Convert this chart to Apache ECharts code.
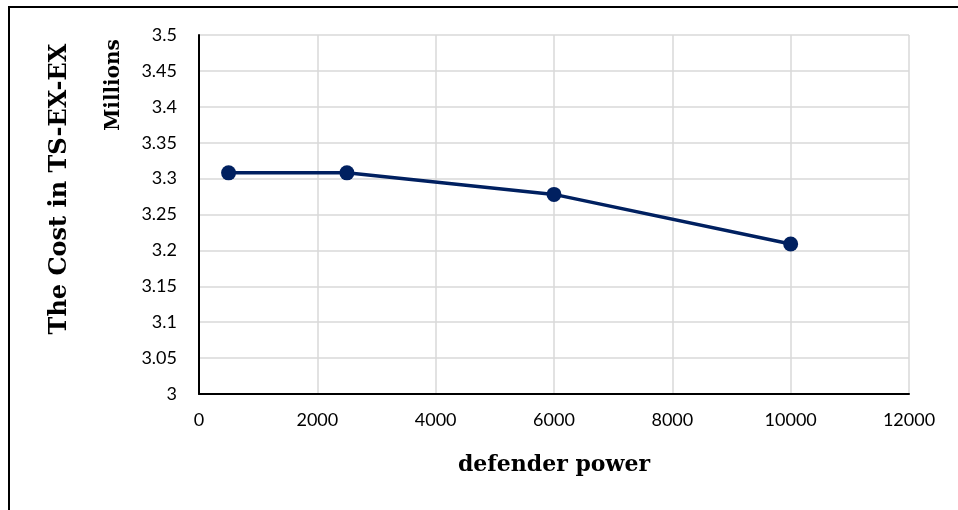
<!DOCTYPE html>
<html>
<head>
<meta charset="utf-8">
<script src="https://cdn.jsdelivr.net/npm/echarts@6/dist/echarts.min.js"></script>
<style>
html,body{margin:0;padding:0;background:#fff;}
#frame{position:absolute;left:8px;top:6px;width:960px;height:520px;border-left:2px solid #000;border-top:2px solid #000;box-sizing:border-box;}
#chart{position:absolute;left:0;top:0;width:958px;height:510px;}
</style>
</head>
<body>
<div id="frame"></div>
<div id="chart"></div>
<script>
const defenderPower = [500, 2500, 6000, 10000];
const costMillions = [3.308, 3.308, 3.278, 3.209];
const xTicks = [0, 2000, 4000, 6000, 8000, 10000, 12000];
const yTicks = [3, 3.05, 3.1, 3.15, 3.2, 3.25, 3.3, 3.35, 3.4, 3.45, 3.5];
const xTitle = 'defender power';
const yTitle = 'The Cost in TS-EX-EX';
const yUnit = 'Millions';

const chart = echarts.init(document.getElementById('chart'), null, {renderer: 'canvas'});
const labelFont = 'Lato, "Open Sans", sans-serif';
const titleFont = '"DejaVu Serif", serif';
function pick(arr, v) { const t = arr.find(k => Math.abs(k - v) < 1e-9); return t !== undefined ? String(t) : ''; }
chart.setOption({
  animation: false,
  grid: {left: 199, right: 49, top: 35, bottom: 116, containLabel: false},
  xAxis: {
    type: 'value',
    min: xTicks[0], max: xTicks[xTicks.length - 1], interval: xTicks[1] - xTicks[0],
    name: xTitle, nameLocation: 'middle', nameGap: 60,
    nameTextStyle: {fontFamily: titleFont, fontWeight: 'bold', fontSize: 22, color: '#000'},
    axisLine: {show: true, lineStyle: {color: '#000', width: 2}},
    axisTick: {show: false},
    axisLabel: {fontFamily: labelFont, fontSize: 18, color: '#000', margin: 17,
      formatter: function (v) { return pick(xTicks, v); }},
    splitLine: {show: true, lineStyle: {color: '#d9d9d9', width: 1.5}}
  },
  yAxis: {
    type: 'value',
    min: yTicks[0], max: yTicks[yTicks.length - 1], interval: 0.05,
    axisLine: {show: true, lineStyle: {color: '#000', width: 2}},
    axisTick: {show: false},
    axisLabel: {fontFamily: labelFont, fontSize: 18, color: '#000', margin: 22,
      formatter: function (v) { return pick(yTicks, v); }},
    splitLine: {show: true, lineStyle: {color: '#d9d9d9', width: 1.5}}
  },
  graphic: [{
    type: 'text', x: 60, y: 189, rotation: Math.PI / 2,
    style: {text: yTitle, font: 'bold 24px "DejaVu Serif", serif', fill: '#000', textAlign: 'center', textVerticalAlign: 'middle'}
  }, {
    type: 'text', x: 114, y: 85, rotation: Math.PI / 2,
    style: {text: yUnit, font: 'bold 20px "DejaVu Serif", serif', fill: '#000', textAlign: 'center', textVerticalAlign: 'middle'}
  }],
  series: [{
    type: 'line',
    data: defenderPower.map((x, i) => [x, costMillions[i]]),
    symbol: 'circle', symbolSize: 15,
    lineStyle: {color: '#002060', width: 3.5},
    itemStyle: {color: '#002060'}
  }]
});
</script>
</body>
</html>
